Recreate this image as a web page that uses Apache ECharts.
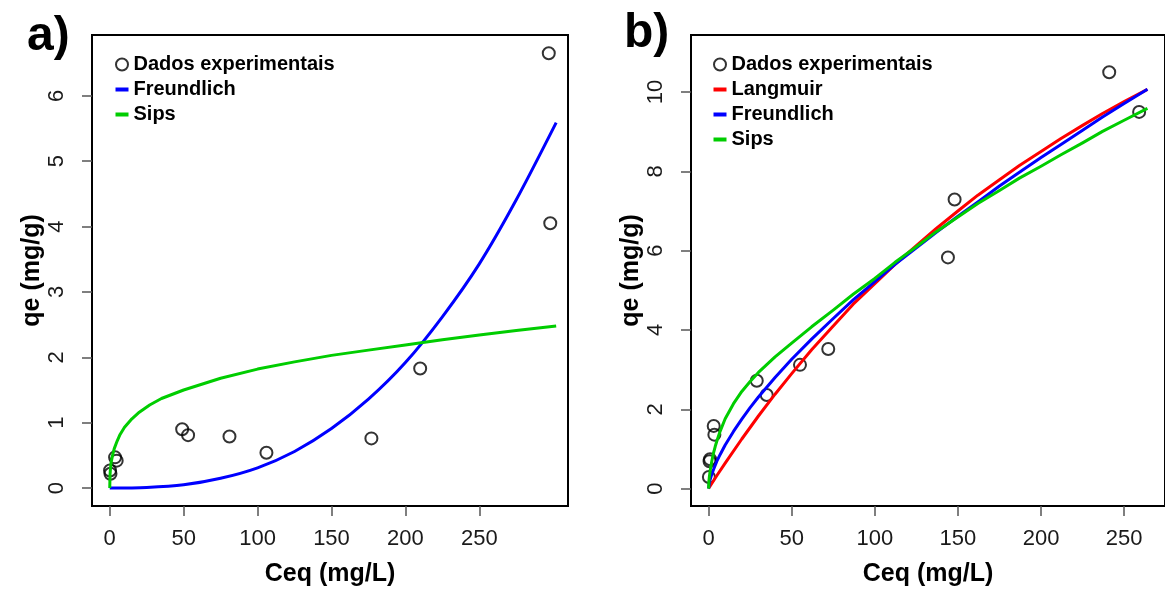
<!DOCTYPE html>
<html>
<head>
<meta charset="utf-8">
<script src="https://cdn.jsdelivr.net/npm/echarts@6/dist/echarts.min.js"></script>
<style>
  html, body { margin: 0; background: #fff; }
  #chart { width: 1165px; height: 592px; }
</style>
</head>
<body>
<div id="chart"></div>
<script>
// panel a) experimental points and fitted models
const pointsA = [
  [0.5, 0.22], [0.2, 0.27], [4.7, 0.42], [3.6, 0.47],
  [49, 0.90], [53, 0.81], [81, 0.79], [106, 0.54],
  [177, 0.76], [210, 1.83], [297, 6.65], [298, 4.05],
];
const freundlichA = [
  [0, 0], [25, 0.01], [50, 0.05], [75, 0.15], [100, 0.31], [125, 0.56],
  [150, 0.91], [175, 1.36], [200, 1.92], [225, 2.62], [250, 3.43],
  [275, 4.41], [302, 5.59],
];
const sipsA = [
  [0, 0], [0.2, 0.2], [0.5, 0.3], [1, 0.4], [2, 0.51], [3, 0.6],
  [5, 0.72], [7, 0.82], [10, 0.93], [15, 1.06], [20, 1.16], [27, 1.27],
  [35, 1.37], [50, 1.5], [75, 1.68], [100, 1.82], [125, 1.93],
  [150, 2.03], [175, 2.11], [200, 2.19], [225, 2.27], [250, 2.34],
  [275, 2.41], [302, 2.48],
];

// panel b)
const pointsB = [
  [0.2, 0.29], [0.6, 0.69], [0.9, 0.74], [3.1, 1.58], [3.5, 1.36],
  [29, 2.72], [35, 2.36], [55, 3.12], [72, 3.52], [144, 5.83],
  [148, 7.29], [241, 10.5], [259, 9.5],
];
const langmuirB = [
  [0, 0], [5, 0.33], [10, 0.64], [20, 1.25], [30, 1.83], [40, 2.38],
  [50, 2.9], [62, 3.5], [75, 4.1], [87, 4.65], [100, 5.17], [112, 5.65],
  [125, 6.13], [137, 6.56], [150, 7.0], [162, 7.4], [175, 7.79],
  [187, 8.15], [200, 8.5], [212, 8.83], [225, 9.16], [237, 9.46],
  [250, 9.76], [264, 10.07],
];
const freundlichB = [
  [0, 0], [0.5, 0.14], [1, 0.23], [2, 0.37], [3, 0.48], [5, 0.69],
  [7, 0.86], [10, 1.1], [15, 1.44], [20, 1.75], [25, 2.04], [30, 2.31],
  [40, 2.8], [50, 3.26], [62, 3.77], [75, 4.29], [87, 4.76], [100, 5.22],
  [112, 5.65], [125, 6.07], [137, 6.46], [150, 6.87], [162, 7.23],
  [175, 7.63], [187, 7.98], [200, 8.35], [212, 8.68], [225, 9.04],
  [237, 9.37], [250, 9.71], [264, 10.07],
];
const sipsB = [
  [0, 0], [0.2, 0.18], [0.5, 0.3], [1, 0.46], [2, 0.7], [3, 0.9],
  [4, 1.06], [5, 1.2], [7, 1.45], [10, 1.76], [15, 2.14], [20, 2.45],
  [25, 2.7], [30, 2.93], [40, 3.32], [50, 3.67], [62, 4.08], [75, 4.5],
  [87, 4.9], [100, 5.3], [112, 5.7], [125, 6.1], [137, 6.48],
  [150, 6.85], [162, 7.19], [175, 7.52], [187, 7.83], [200, 8.13],
  [212, 8.42], [225, 8.72], [237, 9.01], [250, 9.29], [264, 9.59],
];

const xTicks = [0, 50, 100, 150, 200, 250];
const yTicksA = [0, 1, 2, 3, 4, 5, 6];
const yTicksB = [0, 2, 4, 6, 8, 10];

const FONT = "'Liberation Sans', Arial, sans-serif";
const BLUE = "#0000ff";
const GREEN = "#00cd00";
const RED = "#ff0000";
const DASH = "path://M0,0h13v4h-13z";

const chart = echarts.init(document.getElementById("chart"));

const xAxisBase = (gridIndex, min, max) => ({
  type: "value",
  gridIndex: gridIndex,
  min: min,
  max: max,
  name: "Ceq (mg/L)",
  nameLocation: "middle",
  nameGap: 56,
  nameTextStyle: { fontFamily: FONT, fontWeight: "bold", fontSize: 25, color: "#000" },
  axisLine: { show: false, onZero: false },
  splitLine: { show: false },
  axisTick: {
    show: true,
    length: 10,
    customValues: xTicks,
    lineStyle: { color: "#555", width: 1.5 },
  },
  axisLabel: {
    customValues: xTicks,
    margin: 22,
    fontFamily: FONT,
    fontSize: 22,
    color: "#1a1a1a",
  },
});

const yAxisBase = (gridIndex, min, max, ticks) => ({
  type: "value",
  gridIndex: gridIndex,
  min: min,
  max: max,
  name: "qe (mg/g)",
  nameLocation: "middle",
  nameGap: 47,
  nameTextStyle: { fontFamily: FONT, fontWeight: "bold", fontSize: 25, color: "#000" },
  axisLine: { show: false, onZero: false },
  splitLine: { show: false },
  axisTick: {
    show: true,
    length: 10,
    customValues: ticks,
    lineStyle: { color: "#555", width: 1.5 },
  },
  axisLabel: {
    customValues: ticks,
    rotate: 90,
    margin: 24,
    fontFamily: FONT,
    fontSize: 22,
    color: "#1a1a1a",
  },
});

const scatter = (name, idx, data) => ({
  name: name,
  type: "scatter",
  xAxisIndex: idx,
  yAxisIndex: idx,
  symbol: "circle",
  symbolSize: 12,
  itemStyle: { color: "rgba(0,0,0,0)", borderColor: "#000", borderWidth: 2 },
  data: data,
  z: 2,
});

const curve = (name, idx, data, color, smooth) => ({
  name: name,
  type: "line",
  xAxisIndex: idx,
  yAxisIndex: idx,
  symbol: "none",
  smooth: smooth,
  lineStyle: { color: color, width: 3, join: "round" },
  itemStyle: { color: color },
  data: data,
  z: 3,
});

const legendBase = {
  orient: "vertical",
  top: 47,
  itemWidth: 13,
  itemHeight: 12,
  itemGap: 0,
  selectedMode: false,
  textStyle: {
    fontFamily: FONT,
    fontWeight: "bold",
    fontSize: 20,
    lineHeight: 25,
    color: "#000",
  },
};

const scatterLegendItem = {
  name: "Dados experimentais",
  icon: "circle",
  itemStyle: { color: "rgba(0,0,0,0)", borderColor: "#000", borderWidth: 2 },
};
const lineItem = (name) => ({ name: name, icon: DASH });

const option = {
  animation: false,
  backgroundColor: "#fff",
  grid: [
    { left: 92, top: 35, width: 476, height: 473, show: true, borderColor: "#000", borderWidth: 2 },
    { left: 691, top: 35, right: -10, height: 473, show: true, borderColor: "#000", borderWidth: 2 },
  ],
  xAxis: [xAxisBase(0, -12, 310), xAxisBase(1, -10.56, 274.56)],
  yAxis: [
    yAxisBase(0, -0.274, 6.93, yTicksA),
    yAxisBase(1, -0.44, 11.44, yTicksB),
  ],
  legend: [
    Object.assign({}, legendBase, {
      left: 110,
      data: [scatterLegendItem, lineItem("Freundlich"), lineItem("Sips")],
    }),
    Object.assign({}, legendBase, {
      left: 708,
      data: [scatterLegendItem, lineItem("Langmuir"), lineItem("Freundlich "), lineItem("Sips ")],
    }),
  ],
  graphic: [
    {
      type: "text",
      left: 27,
      top: 13,
      style: { text: "a)", font: "bold 48px " + FONT, fill: "#000" },
    },
    {
      type: "text",
      left: 624,
      top: 10,
      style: { text: "b)", font: "bold 48px " + FONT, fill: "#000" },
    },
  ],
  series: [
    scatter("Dados experimentais", 0, pointsA),
    curve("Freundlich", 0, freundlichA, BLUE, 0.3),
    curve("Sips", 0, sipsA, GREEN, false),
    scatter("Dados experimentais", 1, pointsB),
    curve("Langmuir", 1, langmuirB, RED, false),
    curve("Freundlich ", 1, freundlichB, BLUE, false),
    curve("Sips ", 1, sipsB, GREEN, false),
  ],
};

chart.setOption(option);
</script>
</body>
</html>
